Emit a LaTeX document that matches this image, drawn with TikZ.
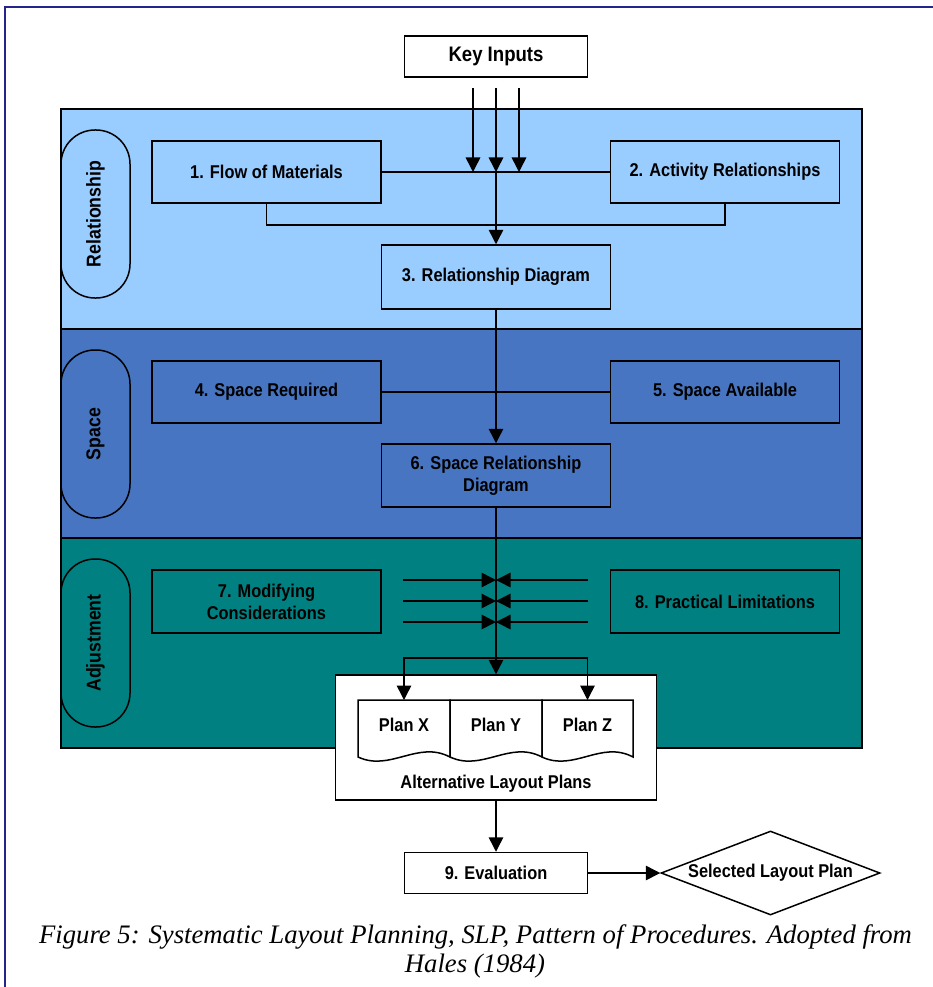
\documentclass[tikz,border=0pt]{standalone}
\usepackage{fontspec}
\setmainfont{Liberation Serif}
\newfontfamily\labelfont{Liberation Sans}[FakeStretch=0.885]
\usetikzlibrary{arrows.meta,shapes.geometric,calc}
\definecolor{relband}{HTML}{99CCFF}
\definecolor{spaceband}{HTML}{4775C1}
\definecolor{adjband}{HTML}{008080}
\definecolor{frameblue}{HTML}{24248C}
\begin{document}
\begin{tikzpicture}[x=1pt,y=-1pt,
  lbl/.style={font=\labelfont\bfseries\fontsize{18.5}{22}\selectfont},
  stepbox/.style={draw, line width=1.5, inner sep=2, align=center, lbl,
    minimum width=229, minimum height=62},
  whitebox/.style={stepbox, fill=white, minimum width=183, minimum height=41},
  band/.style={draw, line width=1.5},
  pill/.style={draw, line width=1.5, rounded corners=34, rotate=90,
    minimum width=168, minimum height=69, inner sep=0,
    font=\labelfont\bfseries\fontsize{20}{24}\selectfont},
  arr/.style={-{Triangle[length=14.5pt,width=14.5pt]}, line width=1.5},
  conn/.style={line width=1.5},
  caption/.style={font=\itshape\fontsize{26.7}{31}\selectfont, anchor=base}]

\useasboundingbox (0,0) rectangle (933,987);
\fill[white] (0,0) rectangle (933,987);

% outer frame
\draw[frameblue, line width=2] (5,1000) -- (5,7) -- (945,7);

% phase bands
\draw[band, fill=relband]   (61,109) rectangle (862,329);
\draw[band, fill=spaceband] (61,329) rectangle (862,538);
\draw[band, fill=adjband]   (61,538) rectangle (862,748);

% phase labels
\node[pill] (prel)   at (95.5,214) {Relationship};
\node[pill] (pspace) at (95.5,434) {Space};
\node[pill] (padj)   at (95.5,643) {Adjustment};

% steps
\node[whitebox, font=\labelfont\bfseries\fontsize{21}{25}\selectfont] (key) at (496,56.5) {Key Inputs};
\node[stepbox] (b1) at (266.5,172) {1. Flow of Materials};
\node[stepbox] (b2) at (725,172) {2. Activity Relationships};
\node[stepbox, minimum height=64] (b3) at (496,277) {3. Relationship Diagram};
\node[stepbox] (b4) at (266.5,392) {4. Space Required};
\node[stepbox] (b5) at (725,392) {5. Space Available};
\node[stepbox, minimum height=63] (b6) at (496,475.5) {6. Space Relationship\\Diagram};
\node[stepbox, minimum height=63] (b7) at (266.5,601.5) {7. Modifying\\Considerations};
\node[stepbox, minimum height=63] (b8) at (725,601.5) {8. Practical Limitations};

% alternative plans
\node[draw, line width=1.5, fill=white, minimum width=321, minimum height=125] (alt) at (496,737.5) {};
\foreach \nm/\xa/\xb in {X/358/450, Y/450/542, Z/542/633}{
  \pgfmathsetmacro{\w}{\xb-\xa}
  \draw[line width=1.5, fill=white] (\xa,757) -- (\xa,700) -- (\xb,700) -- (\xb,757)
    .. controls ({\xa+0.65*\w},740) and ({\xa+0.35*\w},772) .. (\xa,757) -- cycle;
  \coordinate (p\nm top) at ({(\xa+\xb)/2},700);
  \node[lbl] (plan\nm) at ({(\xa+\xb)/2},725) {Plan \nm};
}
\node[lbl] (altlabel) at (496,784) {Alternative Layout Plans};

\node[whitebox] (eval) at (496,873) {9. Evaluation};
\node[draw, line width=1.5, fill=white, shape=diamond, aspect=2.6, inner sep=0,
  minimum width=219, minimum height=84, lbl] (sel) at (770.5,873) {Selected Layout Plan};

% key input feeds
\coordinate (k1) at (473,88);
\coordinate (k2) at (496,88);
\coordinate (k3) at (519,88);
\draw[conn] (b1.east) -- (b2.west);
\foreach \k in {k1,k2,k3} \draw[arr] (\k) -- (\k |- b1.east);
\draw[conn] (b1.south) -- ++(0,21) -| (b2.south);
\draw[arr] (k2 |- b1.east) -- (b3.north);

% space phase
\draw[conn] (b4.east) -- (b5.west);
\draw[arr] (b3.south) -- (b6.north);

% adjustment phase
\draw[arr] (b6.south) -- (alt.north);
\foreach \yy [count=\i] in {580,601,622}{
  \coordinate (l\i) at (403,\yy);
  \coordinate (r\i) at (588,\yy);
  \draw[arr] (l\i) -- (l\i -| b6.south);
  \draw[arr] (r\i) -- (r\i -| b6.south);
}
\coordinate (br) at (496,658);
\draw[arr] (br) -| (pXtop);
\draw[arr] (br) -| (pZtop);

% evaluation
\draw[arr] (alt.south) -- (eval.north);
\draw[arr] (eval.east) -- (sel.west);

% caption
\node[caption] (cap1) at (475.5,943) {Figure 5: Systematic Layout Planning, SLP, Pattern of Procedures. Adopted from};
\node[caption] (cap2) at (475,972) {Hales (1984)};
\end{tikzpicture}
\end{document}
